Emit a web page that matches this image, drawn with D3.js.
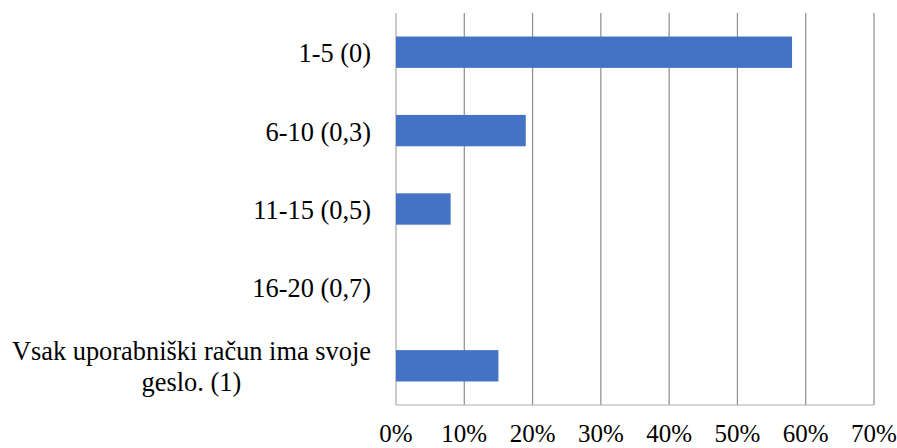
<!DOCTYPE html>
<html><head><meta charset="utf-8">
<script src="https://cdn.jsdelivr.net/npm/d3@7"></script>
<style>body{margin:0;background:#fff}svg{display:block}text{font-family:"Liberation Serif","Times New Roman",serif;fill:#000}</style>
</head><body><svg id="c" width="897" height="448"></svg>
<script>
const categories = ["1-5 (0)", "6-10 (0,3)", "11-15 (0,5)", "16-20 (0,7)", "Vsak uporabniški račun ima svoje|geslo. (1)"];
const values = [0.58, 0.19, 0.08, 0, 0.15];
const ticks = [0, 0.1, 0.2, 0.3, 0.4, 0.5, 0.6, 0.7];

const svg = d3.select("#c");
const m = {l: 396, r: 874, t: 13, b: 405};
const x = d3.scaleLinear().domain([0, 0.7]).range([m.l, m.r]);
const y = d3.scaleBand().domain(categories).range([m.t, m.b]).paddingInner(0.6).paddingOuter(0.3);

// gridlines
svg.append("g").selectAll("line").data(ticks).join("line")
  .attr("x1", d => x(d)).attr("x2", d => x(d))
  .attr("y1", m.t).attr("y2", m.b)
  .attr("stroke", d => d === 0 ? "#b8b8b8" : "#8c8c8c").attr("stroke-width", d => d === 0 ? 1.5 : 1.2);
svg.append("line").attr("x1", m.l).attr("x2", m.r).attr("y1", m.b).attr("y2", m.b)
  .attr("stroke", "#b0b0b0").attr("stroke-width", 1.2);

// bars
svg.append("g").selectAll("rect").data(categories).join("rect")
  .attr("x", x(0)).attr("y", d => y(d))
  .attr("width", (d, i) => x(values[i]) - x(0)).attr("height", y.bandwidth())
  .attr("fill", "#4472C4");

// x tick labels
svg.append("g").selectAll("text").data(ticks).join("text")
  .attr("x", d => x(d)).attr("y", 442).attr("text-anchor", "middle")
  .attr("font-size", 25).text(d => d3.format(".0%")(d));

// category labels
const lab = svg.append("g");
categories.forEach(c => {
  const lines = c.split("|");
  const cy = y(c) + y.bandwidth() / 2;
  const lh = 31;
  const t = lab.append("text").attr("font-size", 26.4).attr("text-anchor", "middle");
  lines.forEach((ln, j) => {
    t.append("tspan").attr("x", 0).attr("y", cy + 10 + (j - (lines.length - 1) / 2) * lh).text(ln);
  });
  const bb = t.node().getBBox();
  t.attr("transform", `translate(${371 - bb.width / 2},0)`);
});
</script></body></html>
